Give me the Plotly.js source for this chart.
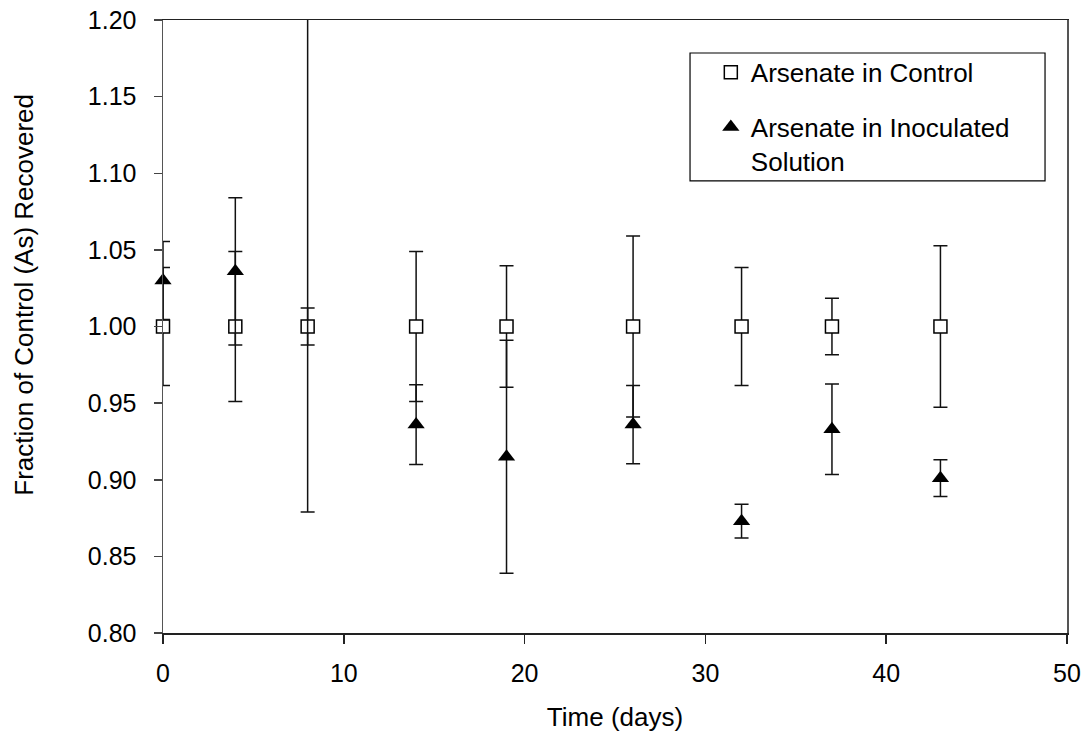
<!DOCTYPE html>
<html>
<head>
<meta charset="utf-8">
<script src="https://cdn.plot.ly/plotly-3.0.1.min.js"></script>
<style>
  html, body { margin: 0; padding: 0; background: #fff; }
  #chart { width: 1086px; height: 737px; }
</style>
</head>
<body>
<div id="chart"></div>
<script>
// Sampling days
const days = [0, 4, 8, 14, 19, 26, 32, 37, 43];

// Arsenate in control (normalised to 1) and its standard deviation
const controlFraction = [1.000, 1.000, 1.000, 1.000, 1.000, 1.000, 1.000, 1.000, 1.000];
const controlSD       = [0.0385, 0.049, 0.012, 0.049, 0.0396, 0.059, 0.0385, 0.0185, 0.0527];

// Arsenate in inoculated solution and its standard deviation
// (day 8 lies above the plotted range; only its error bar shows)
const inoculatedFraction = [1.030, 1.036, 1.250, 0.936, 0.915, 0.936, 0.873, 0.933, 0.901];
const inoculatedSD       = [0.0255, 0.048, 0.371, 0.026, 0.076, 0.0255, 0.011, 0.0295, 0.012];

const yTitle = 'Fraction of Control (As) Recovered';
const xTitle = 'Time (days)';

const FONT = 'Liberation Sans, Arial, sans-serif';

const traces = [
  {
    x: days, y: controlFraction,
    name: 'Arsenate in Control',
    type: 'scatter', mode: 'markers',
    legendgroup: 'a', cliponaxis: false,
    marker: { symbol: 'square', size: 13, color: '#ffffff', line: { color: '#000', width: 1.5 } },
    error_y: { type: 'data', array: controlSD, visible: true, color: '#111', thickness: 1.5, width: 7 }
  },
  {
    x: days, y: inoculatedFraction,
    name: 'Arsenate in Inoculated<br>Solution',
    type: 'scatter', mode: 'markers',
    legendgroup: 'b', cliponaxis: false,
    marker: { symbol: 'triangle-up', size: 15, color: '#000', line: { color: '#000', width: 0 } },
    error_y: { type: 'data', array: inoculatedSD, visible: true, color: '#111', thickness: 1.5, width: 7 }
  }
];

const layout = {
  width: 1086, height: 737,
  margin: { l: 163, r: 19, t: 20, b: 103.5 },
  paper_bgcolor: '#fff', plot_bgcolor: '#fff',
  font: { family: FONT, color: '#000', size: 25 },
  showlegend: true,
  legend: {
    x: 0.606, y: 0.953, xanchor: 'left', yanchor: 'top',
    bgcolor: 'rgba(0,0,0,0)', borderwidth: 0,
    font: { family: FONT, size: 26, color: '#000' },
    tracegroupgap: 18, valign: 'top'
  },
  xaxis: {
    range: [0, 50], tickvals: [0, 10, 20, 30, 40, 50],
    ticks: 'outside', ticklen: 9, tickwidth: 1.5, tickcolor: '#222',
    showline: true, linecolor: '#222', linewidth: 1.5, mirror: true,
    showgrid: false, zeroline: false,
    tickfont: { family: FONT, size: 25 },
    ticklabelstandoff: 8,
    title: { text: xTitle, font: { family: FONT, size: 26 }, standoff: 22 }
  },
  yaxis: {
    range: [0.80, 1.20], tickvals: [0.80, 0.85, 0.90, 0.95, 1.00, 1.05, 1.10, 1.15, 1.20],
    tickformat: '.2f',
    ticks: 'outside', ticklen: 8, tickwidth: 1.5, tickcolor: '#444',
    showline: true, linecolor: '#555', linewidth: 1.5, mirror: true,
    showgrid: false, zeroline: false,
    tickfont: { family: FONT, size: 25 },
    ticklabelstandoff: 12
  },
  annotations: [
    // Vertical axis title, set slightly above the plot's mid-height
    { text: yTitle, textangle: -90, showarrow: false,
      xref: 'paper', yref: 'paper', x: -0.1538, y: 0.5518,
      xanchor: 'center', yanchor: 'middle',
      font: { family: FONT, size: 26, color: '#000' } }
  ],
  shapes: [
    // Legend frame
    { type: 'rect', xref: 'paper', yref: 'paper',
      x0: 0.583, x1: 0.9757, y0: 0.7376, y1: 0.9462,
      line: { color: '#000', width: 1.2 }, fillcolor: 'rgba(0,0,0,0)' }
  ]
};

Plotly.newPlot('chart', traces, layout, { displayModeBar: false, staticPlot: true });
</script>
</body>
</html>
